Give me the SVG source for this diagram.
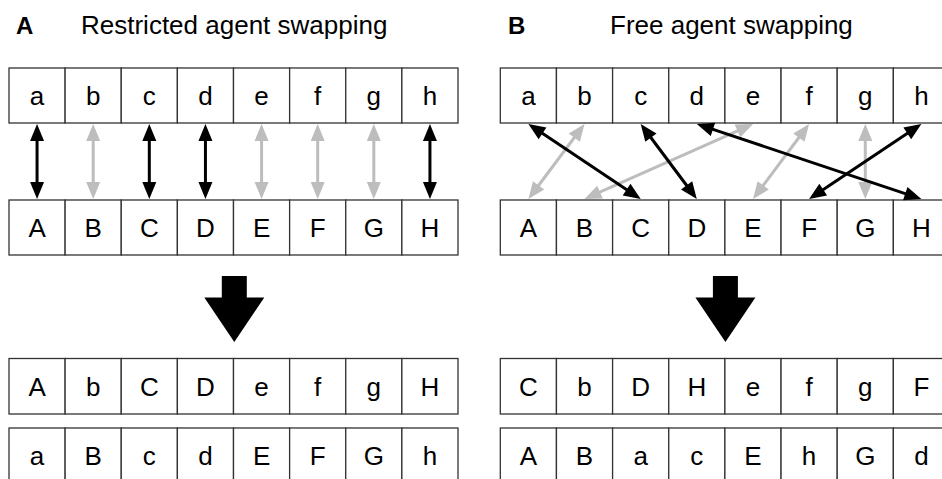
<svg xmlns="http://www.w3.org/2000/svg" width="942" height="479" viewBox="0 0 942 479">
<style>
.cell{fill:#fff;stroke:#333;stroke-width:1.3}
.t{font-family:"Liberation Sans",Arial,sans-serif;font-size:26px;fill:#000;text-anchor:middle}
.title{font-family:"Liberation Sans",Arial,sans-serif;font-size:26px;fill:#000}
.lbl{font-family:"Liberation Sans",Arial,sans-serif;font-size:24px;font-weight:bold;fill:#000}
.k{stroke:#000;stroke-width:3;fill:none;marker-start:url(#mk);marker-end:url(#mk)}
.g{stroke:#bdbdbd;stroke-width:3;fill:none;marker-start:url(#mg);marker-end:url(#mg)}
.big{fill:#000}
</style>
<defs>
<marker id="mk" markerUnits="userSpaceOnUse" markerWidth="17" markerHeight="14" refX="7" refY="7" orient="auto-start-reverse" overflow="visible"><path d="M0,0 L17,7 L0,14 z" fill="#000"/></marker>
<marker id="mg" markerUnits="userSpaceOnUse" markerWidth="17" markerHeight="14" refX="7" refY="7" orient="auto-start-reverse" overflow="visible"><path d="M0,0 L17,7 L0,14 z" fill="#bdbdbd"/></marker>
</defs>
<rect width="942" height="479" fill="#fff"/>

<g id="titleA"><text class="lbl" x="16" y="34">A</text><text class="title" x="81" y="34">Restricted agent swapping</text></g>
<g id="titleB"><text class="lbl" x="508" y="34">B</text><text class="title" x="610" y="34">Free agent swapping</text></g>

<!-- Panel A -->
<g id="A-top">
<rect class="cell" x="9" y="68" width="56.125" height="55"/><text class="t" x="37.06" y="105">a</text>
<rect class="cell" x="65.125" y="68" width="56.125" height="55"/><text class="t" x="93.19" y="105">b</text>
<rect class="cell" x="121.25" y="68" width="56.125" height="55"/><text class="t" x="149.31" y="105">c</text>
<rect class="cell" x="177.375" y="68" width="56.125" height="55"/><text class="t" x="205.44" y="105">d</text>
<rect class="cell" x="233.5" y="68" width="56.125" height="55"/><text class="t" x="261.56" y="105">e</text>
<rect class="cell" x="289.625" y="68" width="56.125" height="55"/><text class="t" x="317.69" y="105">f</text>
<rect class="cell" x="345.75" y="68" width="56.125" height="55"/><text class="t" x="373.81" y="105">g</text>
<rect class="cell" x="401.875" y="68" width="56.125" height="55"/><text class="t" x="429.94" y="105">h</text>
</g>
<g id="A-bottom">
<rect class="cell" x="9" y="200" width="56.125" height="55"/><text class="t" x="37.06" y="237">A</text>
<rect class="cell" x="65.125" y="200" width="56.125" height="55"/><text class="t" x="93.19" y="237">B</text>
<rect class="cell" x="121.25" y="200" width="56.125" height="55"/><text class="t" x="149.31" y="237">C</text>
<rect class="cell" x="177.375" y="200" width="56.125" height="55"/><text class="t" x="205.44" y="237">D</text>
<rect class="cell" x="233.5" y="200" width="56.125" height="55"/><text class="t" x="261.56" y="237">E</text>
<rect class="cell" x="289.625" y="200" width="56.125" height="55"/><text class="t" x="317.69" y="237">F</text>
<rect class="cell" x="345.75" y="200" width="56.125" height="55"/><text class="t" x="373.81" y="237">G</text>
<rect class="cell" x="401.875" y="200" width="56.125" height="55"/><text class="t" x="429.94" y="237">H</text>
</g>
<g id="A-result1">
<rect class="cell" x="9" y="358.5" width="56.125" height="55.5"/><text class="t" x="37.06" y="395.5">A</text>
<rect class="cell" x="65.125" y="358.5" width="56.125" height="55.5"/><text class="t" x="93.19" y="395.5">b</text>
<rect class="cell" x="121.25" y="358.5" width="56.125" height="55.5"/><text class="t" x="149.31" y="395.5">C</text>
<rect class="cell" x="177.375" y="358.5" width="56.125" height="55.5"/><text class="t" x="205.44" y="395.5">D</text>
<rect class="cell" x="233.5" y="358.5" width="56.125" height="55.5"/><text class="t" x="261.56" y="395.5">e</text>
<rect class="cell" x="289.625" y="358.5" width="56.125" height="55.5"/><text class="t" x="317.69" y="395.5">f</text>
<rect class="cell" x="345.75" y="358.5" width="56.125" height="55.5"/><text class="t" x="373.81" y="395.5">g</text>
<rect class="cell" x="401.875" y="358.5" width="56.125" height="55.5"/><text class="t" x="429.94" y="395.5">H</text>
</g>
<g id="A-result2">
<rect class="cell" x="9" y="428" width="56.125" height="55.5"/><text class="t" x="37.06" y="464.5">a</text>
<rect class="cell" x="65.125" y="428" width="56.125" height="55.5"/><text class="t" x="93.19" y="464.5">B</text>
<rect class="cell" x="121.25" y="428" width="56.125" height="55.5"/><text class="t" x="149.31" y="464.5">c</text>
<rect class="cell" x="177.375" y="428" width="56.125" height="55.5"/><text class="t" x="205.44" y="464.5">d</text>
<rect class="cell" x="233.5" y="428" width="56.125" height="55.5"/><text class="t" x="261.56" y="464.5">E</text>
<rect class="cell" x="289.625" y="428" width="56.125" height="55.5"/><text class="t" x="317.69" y="464.5">F</text>
<rect class="cell" x="345.75" y="428" width="56.125" height="55.5"/><text class="t" x="373.81" y="464.5">G</text>
<rect class="cell" x="401.875" y="428" width="56.125" height="55.5"/><text class="t" x="429.94" y="464.5">h</text>
</g>
<g id="A-bigarrow"><polygon class="big" points="221.8,276 246.8,276 246.8,297.5 264.3,297.5 234.3,342 204.3,297.5 221.8,297.5"/></g>

<!-- Panel B -->
<g id="B-top">
<rect class="cell" x="500.3" y="68" width="56.15" height="55"/><text class="t" x="528.4" y="105">a</text>
<rect class="cell" x="556.45" y="68" width="56.15" height="55"/><text class="t" x="584.5" y="105">b</text>
<rect class="cell" x="612.6" y="68" width="56.15" height="55"/><text class="t" x="640.7" y="105">c</text>
<rect class="cell" x="668.75" y="68" width="56.15" height="55"/><text class="t" x="696.8" y="105">d</text>
<rect class="cell" x="724.9" y="68" width="56.15" height="55"/><text class="t" x="753.0" y="105">e</text>
<rect class="cell" x="781.05" y="68" width="56.15" height="55"/><text class="t" x="809.1" y="105">f</text>
<rect class="cell" x="837.2" y="68" width="56.15" height="55"/><text class="t" x="865.3" y="105">g</text>
<rect class="cell" x="893.35" y="68" width="56.15" height="55"/><text class="t" x="921.4" y="105">h</text>
</g>
<g id="B-bottom">
<rect class="cell" x="500.3" y="200" width="56.15" height="55"/><text class="t" x="528.4" y="237">A</text>
<rect class="cell" x="556.45" y="200" width="56.15" height="55"/><text class="t" x="584.5" y="237">B</text>
<rect class="cell" x="612.6" y="200" width="56.15" height="55"/><text class="t" x="640.7" y="237">C</text>
<rect class="cell" x="668.75" y="200" width="56.15" height="55"/><text class="t" x="696.8" y="237">D</text>
<rect class="cell" x="724.9" y="200" width="56.15" height="55"/><text class="t" x="753.0" y="237">E</text>
<rect class="cell" x="781.05" y="200" width="56.15" height="55"/><text class="t" x="809.1" y="237">F</text>
<rect class="cell" x="837.2" y="200" width="56.15" height="55"/><text class="t" x="865.3" y="237">G</text>
<rect class="cell" x="893.35" y="200" width="56.15" height="55"/><text class="t" x="921.4" y="237">H</text>
</g>
<g id="B-result1">
<rect class="cell" x="500.3" y="358.5" width="56.15" height="55.5"/><text class="t" x="528.4" y="395.5">C</text>
<rect class="cell" x="556.45" y="358.5" width="56.15" height="55.5"/><text class="t" x="584.5" y="395.5">b</text>
<rect class="cell" x="612.6" y="358.5" width="56.15" height="55.5"/><text class="t" x="640.7" y="395.5">D</text>
<rect class="cell" x="668.75" y="358.5" width="56.15" height="55.5"/><text class="t" x="696.8" y="395.5">H</text>
<rect class="cell" x="724.9" y="358.5" width="56.15" height="55.5"/><text class="t" x="753.0" y="395.5">e</text>
<rect class="cell" x="781.05" y="358.5" width="56.15" height="55.5"/><text class="t" x="809.1" y="395.5">f</text>
<rect class="cell" x="837.2" y="358.5" width="56.15" height="55.5"/><text class="t" x="865.3" y="395.5">g</text>
<rect class="cell" x="893.35" y="358.5" width="56.15" height="55.5"/><text class="t" x="921.4" y="395.5">F</text>
</g>
<g id="B-result2">
<rect class="cell" x="500.3" y="428" width="56.15" height="55.5"/><text class="t" x="528.4" y="464.5">A</text>
<rect class="cell" x="556.45" y="428" width="56.15" height="55.5"/><text class="t" x="584.5" y="464.5">B</text>
<rect class="cell" x="612.6" y="428" width="56.15" height="55.5"/><text class="t" x="640.7" y="464.5">a</text>
<rect class="cell" x="668.75" y="428" width="56.15" height="55.5"/><text class="t" x="696.8" y="464.5">c</text>
<rect class="cell" x="724.9" y="428" width="56.15" height="55.5"/><text class="t" x="753.0" y="464.5">E</text>
<rect class="cell" x="781.05" y="428" width="56.15" height="55.5"/><text class="t" x="809.1" y="464.5">h</text>
<rect class="cell" x="837.2" y="428" width="56.15" height="55.5"/><text class="t" x="865.3" y="464.5">G</text>
<rect class="cell" x="893.35" y="428" width="56.15" height="55.5"/><text class="t" x="921.4" y="464.5">d</text>
</g>
<g id="B-bigarrow"><polygon class="big" points="712.9,276 737.9,276 737.9,297.5 755.4,297.5 725.4,342 695.4,297.5 712.9,297.5"/></g>

<g id="connectors">
<!-- Panel A vertical swaps -->
<line class="k" x1="37.06" y1="134" x2="37.06" y2="189"/>
<line class="g" x1="93.19" y1="134" x2="93.19" y2="189"/>
<line class="k" x1="149.31" y1="134" x2="149.31" y2="189"/>
<line class="k" x1="205.44" y1="134" x2="205.44" y2="189"/>
<line class="g" x1="261.56" y1="134" x2="261.56" y2="189"/>
<line class="g" x1="317.69" y1="134" x2="317.69" y2="189"/>
<line class="g" x1="373.81" y1="134" x2="373.81" y2="189"/>
<line class="k" x1="429.94" y1="134" x2="429.94" y2="189"/>
<!-- Panel B free swaps -->
<line class="g" x1="578.5" y1="132.0" x2="534.4" y2="191.0"/>
<line class="g" x1="743.9" y1="128.07" x2="593.6" y2="194.93"/>
<line class="g" x1="803.1" y1="132.0" x2="759.0" y2="191.0"/>
<line class="g" x1="865.3" y1="134" x2="865.3" y2="189"/>
<line class="k" x1="536.7" y1="129.55" x2="632.4" y2="193.45"/>
<line class="k" x1="646.7" y1="132.0" x2="690.8" y2="191.0"/>
<line class="k" x1="706.3" y1="127.17" x2="911.9" y2="195.83"/>
<line class="k" x1="913.1" y1="129.55" x2="817.4" y2="193.45"/>
</g>
</svg>
